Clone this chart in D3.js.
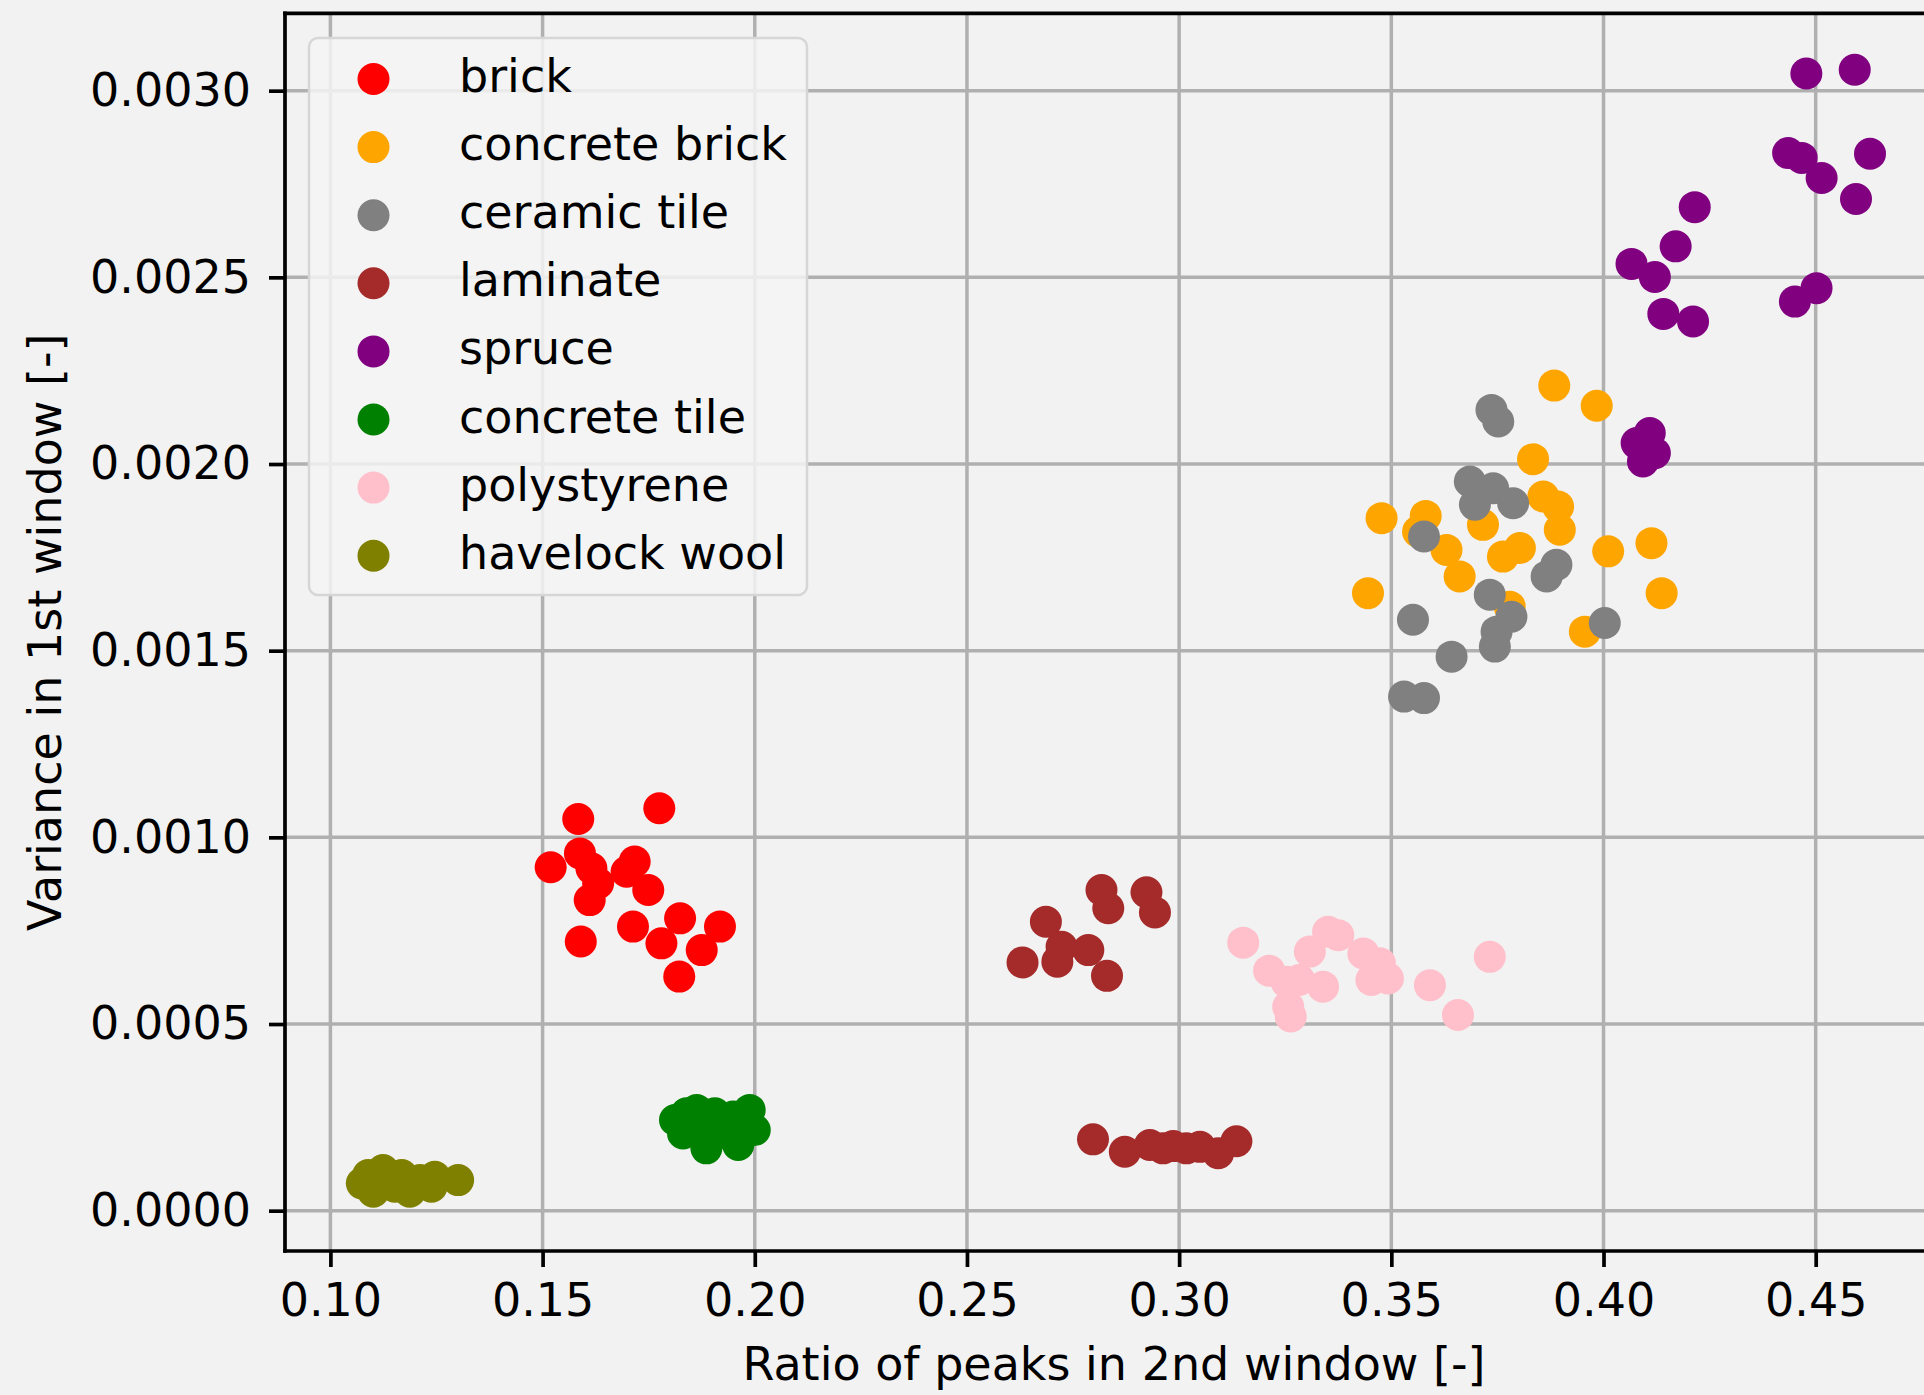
<!DOCTYPE html>
<html>
<head>
<meta charset="utf-8">
<script src="https://cdn.jsdelivr.net/npm/d3@7"></script>
<style>
  html, body { margin: 0; padding: 0; background: #f2f2f2; }
  svg { display: block; }
  text { font-family: "DejaVu Sans", sans-serif; }
</style>
</head>
<body>
<svg id="chart" width="1924" height="1395"></svg>
<script>
// ---------------- data ----------------
const categories = ["brick", "concrete brick", "ceramic tile", "laminate", "spruce", "concrete tile", "polystyrene", "havelock wool"];
const colors = ["red", "orange", "gray", "brown", "purple", "green", "pink", "olive"];

const brick = [
  [0.1584, 0.001049], [0.1775, 0.001078], [0.1519, 0.000920], [0.1588, 0.000957],
  [0.1615, 0.000917], [0.1631, 0.000877], [0.1611, 0.000832], [0.1698, 0.000908],
  [0.1717, 0.000935], [0.1749, 0.000859], [0.1590, 0.000721], [0.1713, 0.000761],
  [0.1780, 0.000716], [0.1824, 0.000783], [0.1875, 0.000698], [0.1918, 0.000761],
  [0.1822, 0.000627]
];
const concreteBrick = [
  [0.3884, 0.002210], [0.3984, 0.002156], [0.3834, 0.002013], [0.3477, 0.001855],
  [0.3581, 0.001861], [0.3563, 0.001819], [0.3716, 0.001837], [0.3630, 0.001770],
  [0.3661, 0.001699], [0.3763, 0.001752], [0.3803, 0.001775], [0.3858, 0.001913],
  [0.3893, 0.001886], [0.3897, 0.001824], [0.4011, 0.001766], [0.4113, 0.001788],
  [0.4137, 0.001654], [0.3445, 0.001654], [0.3956, 0.001551], [0.3779, 0.001618]
];
const ceramicTile = [
  [0.3736, 0.002145], [0.3752, 0.002114], [0.3685, 0.001953], [0.3740, 0.001935],
  [0.3697, 0.001891], [0.3787, 0.001895], [0.3577, 0.001806], [0.3866, 0.001699],
  [0.3889, 0.001730], [0.3732, 0.001650], [0.3783, 0.001591], [0.3748, 0.001551],
  [0.3744, 0.001511], [0.3551, 0.001583], [0.3642, 0.001484], [0.4003, 0.001574],
  [0.3530, 0.001377], [0.3577, 0.001373]
];
const laminate = [
  [0.2817, 0.000859], [0.2833, 0.000810], [0.2923, 0.000853], [0.2943, 0.000799],
  [0.2686, 0.000774], [0.2723, 0.000707], [0.2713, 0.000667], [0.2631, 0.000665],
  [0.2786, 0.000698], [0.2830, 0.000629],
  [0.2797, 0.000191], [0.2872, 0.000158], [0.2931, 0.000176], [0.2962, 0.000167],
  [0.2986, 0.000173], [0.3017, 0.000167], [0.3049, 0.000171], [0.3092, 0.000154],
  [0.3135, 0.000186]
];
const spruce = [
  [0.4478, 0.003046], [0.4592, 0.003056], [0.4435, 0.002833], [0.4467, 0.002820],
  [0.4514, 0.002766], [0.4628, 0.002831], [0.4595, 0.002710], [0.4215, 0.002688],
  [0.4170, 0.002583], [0.4066, 0.002536], [0.4121, 0.002501], [0.4141, 0.002402],
  [0.4211, 0.002382], [0.4451, 0.002435], [0.4502, 0.002471], [0.4078, 0.002056],
  [0.4109, 0.002083], [0.4093, 0.002007], [0.4121, 0.002029]
];
const concreteTile = [
  [0.1812, 0.000243], [0.1831, 0.000207], [0.1863, 0.000270], [0.1886, 0.000167],
  [0.1906, 0.000261], [0.1918, 0.000216], [0.1949, 0.000252], [0.1961, 0.000176],
  [0.1988, 0.000270], [0.2000, 0.000216], [0.1878, 0.000225], [0.1934, 0.000207],
  [0.1839, 0.000261]
];
const polystyrene = [
  [0.3151, 0.000718], [0.3212, 0.000643], [0.3253, 0.000613], [0.3257, 0.000546],
  [0.3263, 0.000520], [0.3308, 0.000694], [0.3351, 0.000747], [0.3375, 0.000738],
  [0.3339, 0.000600], [0.3434, 0.000689], [0.3473, 0.000663], [0.3453, 0.000618],
  [0.3492, 0.000622], [0.3591, 0.000604], [0.3657, 0.000524], [0.3732, 0.000680],
  [0.3283, 0.000618]
];
const havelockWool = [
  [0.1074, 0.0000732], [0.1089, 0.0000954], [0.1101, 0.0000506], [0.1132, 0.0000820],
  [0.1168, 0.0000954], [0.1187, 0.0000506], [0.1211, 0.0000820], [0.1238, 0.0000640],
  [0.1246, 0.0000908], [0.1301, 0.0000820], [0.1152, 0.0000640], [0.1124, 0.0001088]
];

const xTicks = [0.10, 0.15, 0.20, 0.25, 0.30, 0.35, 0.40, 0.45];
const yTicks = [0.0000, 0.0005, 0.0010, 0.0015, 0.0020, 0.0025, 0.0030];
const xLabel = "Ratio of peaks in 2nd window [-]";
const yLabel = "Variance in 1st window [-]";

const seriesData = [brick, concreteBrick, ceramicTile, laminate, spruce, concreteTile, polystyrene, havelockWool];

// ---------------- layout ----------------
const W = 1924, H = 1395;
const pLeft = 285, pRight = 1943, pTop = 13.4, pBottom = 1251;
const FS = 46;

const svg = d3.select("#chart");
svg.append("rect").attr("width", W).attr("height", H).attr("fill", "#f2f2f2");

const x = d3.scaleLinear().domain([0.0893, 0.4800]).range([pLeft, pRight]);
const y = d3.scaleLinear().domain([-0.000108, 0.003207]).range([pBottom, pTop]);

// grid
const grid = svg.append("g");
grid.selectAll("line.gx").data(xTicks).join("line")
  .attr("x1", d => x(d)).attr("x2", d => x(d))
  .attr("y1", pTop).attr("y2", pBottom)
  .attr("stroke", "#b0b0b0").attr("stroke-width", 3.5);
grid.selectAll("line.gy").data(yTicks).join("line")
  .attr("x1", pLeft).attr("x2", pRight)
  .attr("y1", d => y(d)).attr("y2", d => y(d))
  .attr("stroke", "#b0b0b0").attr("stroke-width", 3.5);

// points
const pts = svg.append("g");
seriesData.forEach((arr, i) => {
  pts.append("g").selectAll("circle").data(arr).join("circle")
    .attr("cx", d => x(d[0])).attr("cy", d => y(d[1]))
    .attr("r", 16).attr("fill", colors[i]);
});

// axes
const xAxis = svg.append("g").attr("transform", `translate(0,${pBottom})`)
  .call(d3.axisBottom(x).tickValues(xTicks).tickFormat(d3.format(".2f")).tickSize(16).tickPadding(16).tickSizeOuter(0));
const yAxis = svg.append("g").attr("transform", `translate(${pLeft},0)`)
  .call(d3.axisLeft(y).tickValues(yTicks).tickFormat(d3.format(".4f")).tickSize(16).tickPadding(18).tickSizeOuter(0));
[xAxis, yAxis].forEach(g => {
  g.select(".domain").remove();
  g.selectAll(".tick line").attr("stroke", "#000").attr("stroke-width", 3.7);
  g.selectAll(".tick text").attr("fill", "#000").style("font-size", FS + "px").style("font-family", "DejaVu Sans");
});

// spines
const sp = svg.append("g").attr("stroke", "#000").attr("stroke-width", 3.7).attr("stroke-linecap", "square");
sp.append("line").attr("x1", pLeft).attr("x2", pLeft).attr("y1", pTop).attr("y2", pBottom);
sp.append("line").attr("x1", pLeft).attr("x2", pRight).attr("y1", pBottom).attr("y2", pBottom);
sp.append("line").attr("x1", pLeft).attr("x2", pRight).attr("y1", pTop).attr("y2", pTop);
sp.append("line").attr("x1", pRight).attr("x2", pRight).attr("y1", pTop).attr("y2", pBottom);

// axis labels
svg.append("text").attr("x", (pLeft + pRight) / 2).attr("y", 1380)
  .attr("text-anchor", "middle").style("font-size", FS + "px").attr("fill", "#000").text(xLabel);
svg.append("text").attr("transform", `translate(61,${(pTop + pBottom) / 2}) rotate(-90)`)
  .attr("text-anchor", "middle").style("font-size", FS + "px").attr("fill", "#000").text(yLabel);

// legend
const lg = svg.append("g");
lg.append("rect").attr("x", 309).attr("y", 38).attr("width", 498).attr("height", 557)
  .attr("rx", 9).attr("fill", "#f4f4f4").attr("fill-opacity", 0.85)
  .attr("stroke", "#d6d6d6").attr("stroke-width", 2.5);
const rowY = i => 79 + i * 68.1;
categories.forEach((c, i) => {
  lg.append("circle").attr("cx", 373.5).attr("cy", rowY(i)).attr("r", 16).attr("fill", colors[i]);
  lg.append("text").attr("x", 459).attr("y", rowY(i) + 13)
    .style("font-size", FS + "px").attr("fill", "#000").text(c);
});
</script>
</body>
</html>
